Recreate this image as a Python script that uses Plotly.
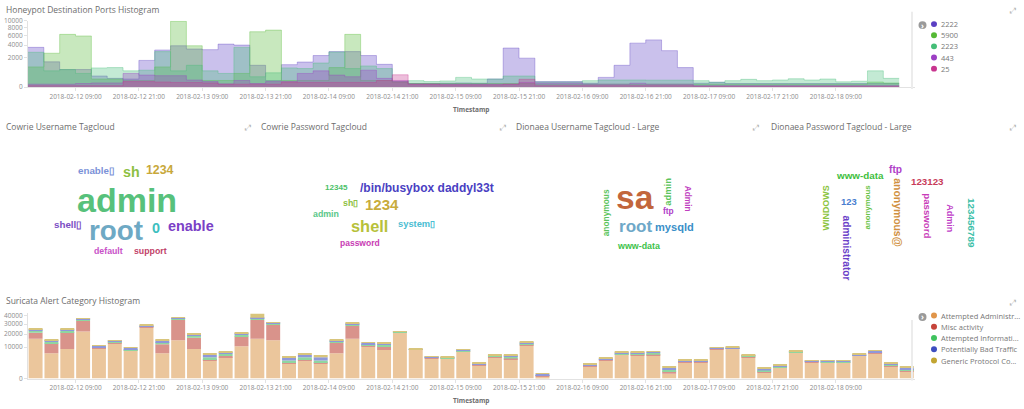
import numpy as np
import pandas as pd
import plotly.graph_objects as go

W, H = 1024, 409

# ---------------- data: Honeypot Destination Ports (3h buckets) ----------------
port_bins = pd.date_range("2018-02-12 00:00", periods=55, freq="3h")
port_names = ["2222", "5900", "2223", "443", "25"]
p2222 = [3580, 1450, 700, 700, 280, 175, 150, 1616, 3120, 3875, 3290, 3180, 4187, 4000, 1080, 100,
         1145, 1425, 2260, 2855, 2855, 2260, 1177, 70, 30, 30, 35, 40, 35, 150, 3460, 1900, 70, 70,
         70, 35, 216, 1080, 4380, 5050, 3015, 865, 35, 54, 30, 30, 30, 30, 30, 30, 30, 30, 30, 30, 30]
p5900 = [925, 2600, 6300, 5920, 150, 150, 100, 100, 925, 9800, 3875, 100, 100, 424, 6944, 7360,
         100, 100, 100, 865, 6300, 100, 100, 50, 30, 30, 30, 30, 30, 30, 30, 30, 20, 20, 20, 20, 20,
         20, 20, 20, 20, 20, 20, 20, 20, 20, 20, 20, 20, 20, 20, 20, 20, 60, 40]
p2223 = [2750, 600, 700, 425, 836, 865, 600, 650, 2855, 600, 1080, 600, 424, 3576, 246, 465, 836,
         780, 1316, 2800, 780, 1015, 780, 70, 96, 70, 87, 216, 150, 150, 280, 280, 60, 60, 60, 96,
         116, 116, 116, 110, 110, 110, 96, 54, 96, 138, 96, 116, 160, 116, 150, 64, 80, 600, 175]
p443 = [20, 20, 20, 30, 40, 40, 424, 330, 300, 300, 116, 70, 24, 100, 30, 70, 70, 424, 600, 330,
        246, 650, 175, 100, 20, 20, 20, 20, 20, 20, 20, 50, 40, 40, 40, 20, 20, 20, 35, 20, 20, 20,
        5, 5, 5, 5, 5, 5, 5, 5, 5, 5, 5, 5, 5]
p25 = [5, 5, 5, 5, 5, 5, 70, 70, 60, 50, 50, 40, 20, 20, 20, 20, 60, 50, 50, 50, 50, 50, 100,
       347, 20, 20, 12, 12, 12, 12, 20, 140, 5, 5, 5, 5, 5, 5, 5, 5, 5, 5,
       2, 2, 2, 2, 2, 2, 2, 2, 2, 2, 2, 2, 2]
port_series = [p2222, p5900, p2223, p443, p25]
port_ticks = [0, 2000, 4000, 6000, 8000, 10000]

# ---------------- data: Suricata Alert Categories (3h buckets) ----------------
alert_bins = pd.date_range("2018-02-12 00:00", periods=56, freq="3h")
alert_names = ["Attempted Administr...", "Misc activity", "Attempted Informati...",
               "Potentially Bad Traffic", "Generic Protocol Co..."]
a_admin = [16080, 6466, 8800, 22350, 9390, 12400, 7860, 26530, 6466, 14800,
           8800, 3333, 4630, 10630, 16080, 14800, 2249, 3333, 2249, 6466,
           16080, 10200, 8230, 21430, 8230, 4220, 3955, 7320, 1787, 4490,
           3826, 11270, 38, 0, 0, 1535, 3333, 5660, 5510, 5510,
           240, 2657, 2657, 8800, 9000, 4630, 344, 1157, 6800, 2657,
           2657, 2657, 5207, 6466, 1535, 562]
a_misc = [5050, 5934, 12930, 11320, 210, 500, 300, 400, 5474, 20020,
          8070, 493, 577, 7330, 18740, 14490, 408, 493, 408, 6394,
          12120, 700, 2400, 300, 200, 150, 200, 200, 100, 200,
          300, 300, 30, 0, 0, 100, 150, 150, 150, 200,
          322, 150, 150, 200, 200, 200, 100, 100, 200, 150,
          100, 100, 150, 200, 150, 150]
a_info = [2150, 1170, 1670, 1530, 300, 600, 400, 800, 1460, 1500,
          1800, 804, 900, 1500, 1700, 1100, 676, 804, 676, 900,
          1500, 700, 1200, 300, 150, 200, 250, 300, 150, 500,
          900, 900, 50, 0, 0, 150, 350, 700, 900, 1100,
          238, 200, 200, 200, 200, 400, 200, 150, 300, 150,
          150, 150, 200, 300, 200, 150]
a_bad = [1200, 1000, 800, 800, 900, 900, 1000, 900, 1200, 700,
         1300, 1030, 900, 900, 1000, 900, 1297, 1030, 1297, 800,
         1300, 1200, 700, 200, 200, 150, 200, 500, 250, 250,
         500, 700, 100, 0, 0, 300, 400, 300, 300, 300,
         350, 400, 400, 300, 300, 300, 400, 350, 300, 300,
         250, 250, 300, 700, 500, 350]
a_generic = [1020, 730, 680, 770, 260, 400, 440, 660, 960, 540,
             860, 806, 493, 770, 4960, 510, 577, 480, 1030, 740,
             800, 530, 540, 420, 220, 195, 165, 280, 163, 220,
             294, 400, 54, 0, 0, 164, 257, 337, 287, 390,
             385, 168, 168, 500, 500, 450, 256, 208, 440, 193,
             176, 176, 283, 374, 272, 165]
alert_series = [a_admin, a_misc, a_info, a_bad, a_generic]
alert_ticks = [0, 10000, 20000, 30000, 40000]

time_ticks = pd.date_range("2018-02-12 09:00", "2018-02-18 09:00", freq="12h")

# ---------------- data: tag clouds (words and counts) ----------------
cu_words = ["admin", "root", "enable", "0", "sh", "1234", "enable\u25af", "shell\u25af", "default", "support"]
cu_counts = [4950, 4050, 2100, 2100, 2070, 1800, 1425, 1425, 1275, 1275]
cp_words = ["/bin/busybox daddyl33t", "shell", "1234", "12345", "sh\u25af", "admin", "system\u25af", "password"]
cp_counts = [1160, 1580, 1450, 780, 850, 850, 900, 820]
du_words = ["sa", "root", "mysqld", "www-data", "anonymous", "admin", "ftp", "Admin"]
du_counts = [3200, 1630, 1060, 850, 800, 900, 800, 800]
dp_words = ["www-data", "ftp", "123123", "WINDOWS", "123", "anonymous", "anonymous@",
            "administrator", "password", "Admin", "123456789"]
dp_counts = [940, 970, 930, 850, 900, 750, 990, 970, 920, 860, 940]

# ---------------- styles / layout helpers ----------------
FONT = "Open Sans, Liberation Sans, sans-serif"
CLOUD_FONT = "Liberation Sans, Arial, sans-serif"
port_colors = ["#5b3fc3", "#55b935", "#45be78", "#9c3fc4", "#c8358f"]
alert_fill = ["#ebc69c", "#d9938b", "#8fd6a0", "#8f98da", "#d8c57c"]
alert_dots = ["#e0954a", "#c6443a", "#3fc35e", "#3d4ec0", "#c2a532"]


def px(x):
    return x / W


def py(y):
    return 1 - y / H


def rgba(hexc, a):
    h = hexc.lstrip("#")
    return "rgba(%d,%d,%d,%.3f)" % (int(h[0:2], 16), int(h[2:4], 16), int(h[4:6], 16), a)


fig = go.Figure()

# ---- top chart: overlapping step areas, sqrt y scale ----
end_time = port_bins[-1] + pd.Timedelta(hours=3)
xs = list(port_bins) + [end_time]
for name, vals, col in zip(port_names, port_series, port_colors):
    ys = np.sqrt(np.array(list(vals) + [vals[-1]], dtype=float))
    fig.add_trace(go.Scatter(
        x=xs, y=ys, mode="lines", line=dict(shape="hv", color=rgba(col, 0.35), width=1),
        fill="tozeroy", fillcolor=rgba(col, 0.32), name=name, showlegend=False,
        xaxis="x", yaxis="y", hoverinfo="skip"))

# ---- bottom chart: stacked bars on sqrt scale ----
cum_prev = np.zeros(len(alert_bins))
bw = 3 * 3600 * 1000
for name, vals, col in zip(alert_names, alert_series, alert_fill):
    cum = cum_prev + np.array(vals, dtype=float)
    base = np.sqrt(cum_prev)
    height = np.sqrt(cum) - base
    fig.add_trace(go.Bar(
        x=list(alert_bins), y=height, base=base, name=name, showlegend=False,
        marker=dict(color=col, line=dict(width=0)), width=bw * 0.88, offset=bw * 0.04,
        xaxis="x2", yaxis="y2", hoverinfo="skip"))
    cum_prev = cum

x_range = [pd.Timestamp("2018-02-12 00:00"), pd.Timestamp("2018-02-19 00:00")]
tick_text = [t.strftime("%Y-%m-%d %H:%M") for t in time_ticks]
axis_font = dict(family=FONT, size=6.5, color="#8c8c8c")
common_x = dict(range=x_range, type="date", tickvals=list(time_ticks), ticktext=tick_text,
                tickfont=axis_font, showgrid=False, zeroline=False, showline=True,
                linecolor="#e2e2e2", linewidth=1, ticks="outside", ticklen=3,
                tickcolor="#e2e2e2", fixedrange=True)
fig.update_layout(
    width=W, height=H, margin=dict(l=0, r=0, t=0, b=0),
    paper_bgcolor="white", plot_bgcolor="white", showlegend=False, barmode="overlay",
    xaxis=dict(domain=[px(28), px(915)], anchor="y", **common_x),
    yaxis=dict(domain=[py(84), py(16)], range=[0, 100], anchor="x",
               tickvals=list(np.sqrt(port_ticks)), ticktext=[str(t) for t in port_ticks],
               tickfont=axis_font, showgrid=False, zeroline=False, showline=True,
               linecolor="#e2e2e2", ticks="outside", ticklen=3, tickcolor="#e2e2e2",
               fixedrange=True),
    xaxis2=dict(domain=[px(28), px(915)], anchor="y2", **common_x),
    yaxis2=dict(domain=[py(382), py(315)], range=[0, 208.3], anchor="x2",
                tickvals=list(np.sqrt(alert_ticks)), ticktext=[str(t) for t in alert_ticks],
                tickfont=axis_font, showgrid=False, zeroline=False, showline=True,
                linecolor="#e2e2e2", ticks="outside", ticklen=3, tickcolor="#e2e2e2",
                fixedrange=True),
)

ann = []
shapes = []


def text(x, y, s, size=8.5, color="#6d6d6d", anchor="left", bold=False, family=FONT, angle=0):
    ann.append(dict(x=px(x), y=py(y), xref="paper", yref="paper", text=s, showarrow=False,
                    xanchor=anchor, yanchor="middle", textangle=angle,
                    font=dict(family=family, size=size, color=color,
                              weight="bold" if bold else "normal")))


# panel titles
text(4, 5, "Honeypot Destination Ports Histogram")
text(4, 124, "Cowrie Username Tagcloud")
text(259, 124, "Cowrie Password Tagcloud")
text(514, 124, "Dionaea Username Tagcloud - Large")
text(769, 124, "Dionaea Password Tagcloud - Large")
text(4, 302, "Suricata Alert Category Histogram")
for ex, ey in [(1012, 5), (247, 124), (502, 124), (755, 124), (1012, 124), (1012, 303)]:
    text(ex, ey, "\u2922", size=8, color="#b5b5b5", anchor="center")

# axis titles
text(471, 107, "Timestamp", size=6.5, color="#6d6d6d", anchor="center", bold=True)
text(471, 404, "Timestamp", size=6.5, color="#6d6d6d", anchor="center", bold=True)


# legends
def legend(names, dot_colors, y0, dy, icon_y, sep):
    shapes.append(dict(type="line", xref="paper", yref="paper", x0=px(912), x1=px(912),
                       y0=py(sep[0]), y1=py(sep[1]), line=dict(color="#ececec", width=2)))
    shapes.append(dict(type="circle", xref="paper", yref="paper", x0=px(918.5), x1=px(926.5),
                       y0=py(icon_y + 4), y1=py(icon_y - 4), fillcolor="#9a9a9a",
                       line=dict(width=0)))
    text(922.5, icon_y, "\u203a", size=8, color="white", anchor="center", bold=True)
    for i, (n, c) in enumerate(zip(names, dot_colors)):
        yy = y0 + i * dy
        shapes.append(dict(type="circle", xref="paper", yref="paper", x0=px(931), x1=px(937),
                           y0=py(yy + 3), y1=py(yy - 3), fillcolor=c, line=dict(width=0)))
        text(939, yy, n, size=7.5, color="#777777")


legend(port_names, port_colors, 19.5, 11.4, 20.5, (7, 86))
legend(alert_names, alert_dots, 317.5, 11.5, 319, (322, 384))


# tag clouds: words sized proportionally to their count
def cloud(words, counts, smax, colors, places, angles):
    cmax = max(counts)
    for w, c, col, (x, y), a in zip(words, counts, colors, places, angles):
        size = smax * c / cmax
        text(x, y, w, size=size, color=col, anchor="center", bold=True, family=CLOUD_FONT, angle=a)


cloud(cu_words, cu_counts, 34,
      ["#57c17b", "#6ea9c4", "#7a40c6", "#3dbfbf", "#8cc042", "#c8a83a", "#7b92d8", "#7b4cc4",
       "#c852c8", "#c2436a"],
      [(127, 199), (116, 231), (191, 226), (156, 228), (131, 171), (160, 169), (96, 169),
       (68, 224), (108, 252), (150, 252)],
      [0] * 10)
cloud(cp_words, cp_counts, 16.4,
      ["#4a3fc2", "#b7c13a", "#c8ac3c", "#4dc26a", "#8cc042", "#5bc88a", "#49bdd2", "#c83cb4"],
      [(427, 187), (369, 226), (382, 204), (336, 187), (350, 202), (326, 214), (416, 224), (360, 243)],
      [0] * 8)
cloud(du_words, du_counts, 33.5,
      ["#c2663c", "#6ea8c8", "#3a8fc8", "#3dc24a", "#5cc45c", "#5cc45c", "#b040c8", "#c040c0"],
      [(635, 197), (635, 226), (674, 227), (638, 246), (606, 213), (668, 191), (668, 211), (688, 198)],
      [0, 0, 0, 0, -90, -90, 0, 90])
cloud(dp_words, dp_counts, 10.4,
      ["#40c040", "#b040c8", "#c83c5a", "#8cc440", "#4a7ed0", "#6cc44a", "#d09040", "#6a40c8",
       "#c83cb8", "#c040c8", "#3cc0a8"],
      [(860, 174), (895, 168), (927, 180), (826, 208), (849, 201), (867, 207), (898, 212),
       (846, 248), (928, 215), (950, 218), (972, 223)],
      [0, 0, 0, -90, 0, -90, 90, 90, 90, 90, 90])

fig.update_layout(annotations=ann, shapes=shapes)
fig.write_html("out.html")
